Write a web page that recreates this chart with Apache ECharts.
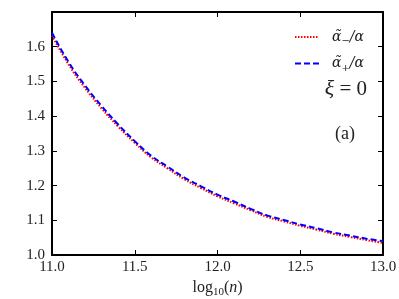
<!DOCTYPE html>
<html><head><meta charset="utf-8">
<script src="https://cdn.jsdelivr.net/npm/echarts@6/dist/echarts.min.js"></script>
<style>html,body{margin:0;padding:0;background:#fff}#c{width:399px;height:299px}</style>
</head><body><div id="c"></div>
<script>
const logN = [11.0,11.1,11.2,11.3,11.4,11.5,11.6,11.7,11.8,11.9,12.0,12.1,12.2,12.3,12.4,12.5,12.6,12.7,12.8,12.9,13.0];
const alphaPlus = [1.640,1.556,1.488,1.429,1.376,1.328,1.286,1.254,1.223,1.198,1.174,1.154,1.133,1.114,1.101,1.088,1.077,1.065,1.056,1.047,1.040];
const alphaMinus = [1.632,1.549,1.481,1.422,1.370,1.323,1.281,1.249,1.218,1.193,1.169,1.149,1.129,1.110,1.097,1.084,1.073,1.061,1.052,1.043,1.035];
const xTicks = [11.0,11.5,12.0,12.5,13.0];
const yTicks = [1.0,1.1,1.2,1.3,1.4,1.5,1.6];
const seriesNames = ['minus','plus'];

const serif = 'Liberation Serif';
const dserif = 'DejaVu Serif';
const chart = echarts.init(document.getElementById('c'));
const axisBase = {
  axisLine:{show:true,onZero:false,lineStyle:{color:'#000',width:2}},
  axisTick:{show:true,inside:true,length:5,lineStyle:{color:'#000',width:1}},
  splitLine:{show:false}
};
const rich = {
  a:{fontFamily:dserif,fontStyle:'italic',fontSize:14,color:'#222'},
  s:{fontFamily:dserif,fontSize:10,color:'#222',padding:[9,0,0,0]}
};
chart.setOption({
  animation:false,
  grid:{left:52,right:16,top:12,bottom:44,outerBoundsMode:'none',containLabel:false},
  legend:{
    right:30, top:25, orient:'vertical', itemGap:10, itemWidth:24, itemHeight:10,
    data:seriesNames,
    itemStyle:{opacity:0},
    formatter:function(n){ return n==='minus' ? '{a|α̃}{s|−}{a|/α}' : '{a|α̃}{s|+}{a|/α}'; },
    textStyle:{rich:rich, padding:[0,0,0,8]}
  },
  xAxis:[
    Object.assign({type:'value',min:11,max:13,interval:0.5,position:'bottom',
      name:'{r|log}{s|10}{r|(}{i|n}{r|)}', nameLocation:'middle', nameGap:21,
      nameTextStyle:{rich:{
        r:{fontFamily:serif,fontSize:16,color:'#222'},
        s:{fontFamily:serif,fontSize:11,color:'#222',padding:[8,0,0,0]},
        i:{fontFamily:serif,fontStyle:'italic',fontSize:16,color:'#222'}}},
      axisLabel:{fontFamily:serif,fontSize:15,color:'#222',margin:5,formatter:v=>v.toFixed(1)}},axisBase),
    Object.assign({type:'value',min:11,max:13,interval:0.5,position:'top',axisLabel:{show:false}},axisBase)
  ],
  yAxis:[
    Object.assign({type:'value',min:1.0,max:1.7,interval:0.1,position:'left',
      axisLabel:{fontFamily:serif,fontSize:15,color:'#222',margin:7,formatter:v=>(Math.abs(v-1.7)<1e-6?'':v.toFixed(1))}},axisBase),
    Object.assign({type:'value',min:1.0,max:1.7,interval:0.1,position:'right',axisLabel:{show:false}},axisBase)
  ],
  series:[
    {name:'minus',type:'line',smooth:true,showSymbol:false,symbol:'none',
     data:logN.map((x,i)=>[x,alphaMinus[i]]),
     lineStyle:{color:'#ff0000',width:2,type:[1.5,1.5]},itemStyle:{color:'#ff0000'}},
    {name:'plus',type:'line',smooth:true,showSymbol:false,symbol:'none',
     data:logN.map((x,i)=>[x,alphaPlus[i]]),
     lineStyle:{color:'#0000ff',width:2,type:[6,3]},itemStyle:{color:'#0000ff'}}
  ],
  graphic:[
    {type:'text',right:32,top:78,style:{text:'{x|ξ}{e| = 0}',rich:{x:{font:'italic 22px '+serif,fill:'#222'},e:{font:'21px '+serif,fill:'#222'}}}},
    {type:'text',right:44,top:125,style:{text:'(a)',font:'18px '+serif,fill:'#222'}}
  ]
});
</script></body></html>
